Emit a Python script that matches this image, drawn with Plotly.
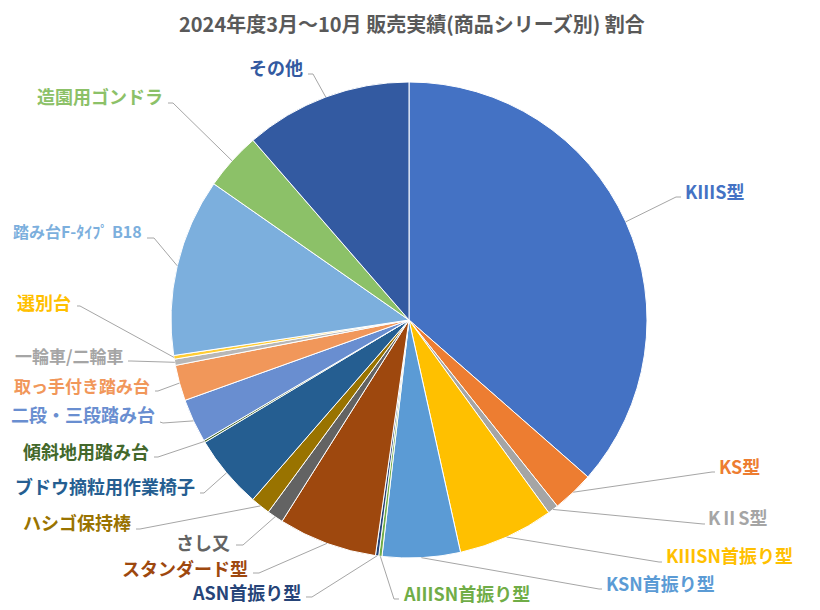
import math
import plotly.graph_objects as go

# ---- data ----
categories = ["KⅢS型", "KS型", "KⅡS型", "KⅢSN首振り型", "KSN首振り型", "AⅢSN首振り型",
              "ASN首振り型", "スタンダード型", "さし又", "ハシゴ保持棒", "ブドウ摘粒用作業椅子",
              "傾斜地用踏み台", "二段・三段踏み台", "取っ手付き踏み台", "一輪車/二輪車", "選別台",
              "踏み台F-ﾀｲﾌﾟ B18", "造園用ゴンドラ", "その他"]
values = [36.4, 2.83, 0.72, 6.5, 5.28, 0.22, 0.22, 6.69, 1.11, 1.33, 5.0,
          0.14, 2.97, 2.42, 0.42, 0.25, 12.06, 3.92, 11.36]
title_text = "2024年度3月～10月 販売実績(商品シリーズ別) 割合"

# ---- styles ----
colors = ["#4472C4", "#ED7D31", "#A5A5A5", "#FFC000", "#5B9BD5", "#70AD47",
          "#264478", "#9E480E", "#636363", "#997300", "#255E91",
          "#43682B", "#698ED0", "#F1975A", "#B7B7B7", "#FFCD33",
          "#7CAFDD", "#8CC168", "#335AA1"]
label_colors = list(colors)
label_colors[14] = "#A5A5A5"
label_colors[15] = "#FFC000"

W, H = 820, 610
OFF = 8  # page body margin
CX, CY, R = 409, 320, 238
FONT = "Noto Sans CJK JP"

# label layout (pixels): text x, text y, xanchor, font size, leader end points (list)
label_layout = [
    (683, 191, "left",  18, [(676, 197), (681, 197)]),
    (717, 466, "left",  18, [(712, 472), (715, 472)]),
    (706, 517, "left",  18, [(703, 524), (705, 524)]),
    (664, 555, "left",  18, [(659, 562), (662, 562)]),
    (604, 583, "left",  18, [(599, 589), (602, 589)]),
    (401, 593, "left",  18, [(394, 599), (399, 599)]),
    (303, 592, "right", 18, [(312, 597), (306, 597)]),
    (250, 568, "right", 18, [(259, 573), (253, 573)]),
    (232, 542, "right", 18, [(243, 545), (236, 545)]),
    (133, 522, "right", 18, [(140, 529), (136, 529)]),
    (197, 486, "right", 18, [(204, 493), (200, 493)]),
    (151, 451, "right", 18, [(158, 457), (154, 457)]),
    (157, 414, "right", 18, [(163, 423), (160, 422)]),
    (152, 385, "right", 17, [(158, 391), (155, 391)]),
    (126, 355, "right", 17, [(131, 361), (128, 361)]),
    (73, 302, "right",  18, [(80, 306), (77, 306)]),
    (144, 231, "right", 16, [(154, 238), (147, 238)]),
    (165, 96, "right",  18, [(173, 103), (168, 103)]),
    (305, 67, "right",  18, [(313, 74), (308, 74)]),
]

def px(x, y):
    return (x - OFF) / W, 1 - (y - OFF) / H

fig = go.Figure()
fig.add_trace(go.Pie(
    labels=categories, values=values, sort=False, direction="clockwise",
    rotation=0, marker=dict(colors=colors, line=dict(color="white", width=1)),
    textinfo="none", hoverinfo="label+percent", showlegend=False,
    domain=dict(x=[(CX - OFF - R) / W, (CX - OFF + R) / W],
                y=[(H - (CY - OFF) - R) / H, (H - (CY - OFF) + R) / H]),
))

total = sum(values)
cum = 0.0
shapes = []
annotations = []
for i, v in enumerate(values):
    mid = (cum + v / 2) / total * 2 * math.pi
    cum += v
    ex = CX + R * math.sin(mid)
    ey = CY - R * math.cos(mid)
    tx, ty, anchor, fs, pts = label_layout[i]
    path_pts = [(ex, ey)] + pts
    d = ""
    for j, (x, y) in enumerate(path_pts):
        X, Y = px(x, y)
        d += ("M" if j == 0 else "L") + f"{X:.5f},{Y:.5f} "
    shapes.append(dict(type="path", path=d.strip(), xref="paper", yref="paper",
                       line=dict(color="#A6A6A6", width=1)))
    X, Y = px(tx, ty)
    annotations.append(dict(x=X, y=Y, xref="paper", yref="paper", text=f"<b>{categories[i]}</b>",
                            showarrow=False, xanchor=anchor, yanchor="middle",
                            font=dict(family=FONT, size=fs, color=label_colors[i])))

tX, tY = px(412, 23)
annotations.append(dict(x=tX, y=tY, xref="paper", yref="paper", text=f"<b>{title_text}</b>",
                        showarrow=False, xanchor="center", yanchor="middle", borderpad=0,
                        font=dict(family=FONT, size=20, color="#595959")))

fig.update_layout(width=W, height=H, margin=dict(l=0, r=0, t=0, b=0),
                  paper_bgcolor="white", plot_bgcolor="white",
                  shapes=shapes, annotations=annotations)
fig.write_html("out.html")
